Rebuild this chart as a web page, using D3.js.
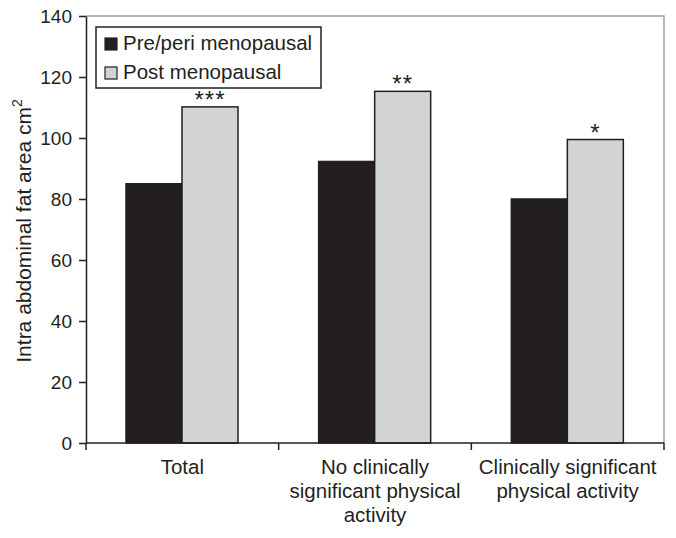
<!DOCTYPE html>
<html>
<head>
<meta charset="utf-8">
<script src="https://cdn.jsdelivr.net/npm/d3@7"></script>
<style>
  body { margin: 0; background: #fff; }
  svg text { font-family: "Liberation Sans", Arial, sans-serif; fill: #231f20; }
</style>
</head>
<body>
<div id="chart"></div>
<script>
const categories = ['Total', 'No clinically significant physical activity', 'Clinically significant physical activity'];
const categoryLines = [
  ['Total'],
  ['No clinically', 'significant physical', 'activity'],
  ['Clinically significant', 'physical activity']
];
const series = ['Pre/peri menopausal', 'Post menopausal'];
const preValues = [85, 92.3, 80];
const postValues = [110.2, 115.3, 99.5];
const stars = ['***', '**', '*'];
const yTicks = [0, 20, 40, 60, 80, 100, 120, 140];
const yLabel = 'Intra abdominal fat area cm';

const W = 676, H = 538;
const plotLeft = 86, plotRight = 664, plotTop = 16, plotBottom = 443;
const ink = '#231f20';
const colors = [ink, '#d1d3d4'];

let svg = d3.select('#chart').append('svg')
  .attr('width', W)
  .attr('height', H);

let x0 = d3.scaleBand().domain(categories).range([plotLeft, plotRight]);
let x1 = d3.scaleBand().domain(series).range([40, 152]);
let y = d3.scaleLinear().domain([0, 140]).range([plotBottom, plotTop]);

// gray frame top / right
svg.append('path')
  .attr('d', `M${plotLeft},${plotTop}H${plotRight}V${plotBottom}`)
  .attr('fill', 'none')
  .attr('stroke', '#a0a0a0')
  .attr('stroke-width', 1.5);

// bars
let rows = categories.map((c, i) => [
  { cat: c, s: series[0], v: preValues[i] },
  { cat: c, s: series[1], v: postValues[i] }
]);

let groups = svg.selectAll('.grp')
  .data(rows)
  .enter().append('g')
  .attr('class', 'grp')
  .attr('transform', d => `translate(${x0(d[0].cat)},0)`);

groups.selectAll('rect')
  .data(d => d)
  .enter().append('rect')
  .attr('x', d => x1(d.s))
  .attr('width', x1.bandwidth())
  .attr('y', d => y(d.v))
  .attr('height', d => y(0) - y(d.v))
  .attr('fill', (d, i) => colors[i])
  .attr('stroke', ink)
  .attr('stroke-width', 1.5);

// significance stars
groups.append('text')
  .attr('x', x1(series[1]) + x1.bandwidth() / 2)
  .attr('y', (d, i) => y(postValues[i]) + 1)
  .attr('text-anchor', 'middle')
  .attr('font-size', 24)
  .attr('letter-spacing', 1)
  .text((d, i) => stars[i]);

// y axis
let yAxis = svg.append('g')
  .attr('transform', `translate(${plotLeft},0)`)
  .call(d3.axisLeft(y).tickValues(yTicks).tickSize(7).tickPadding(7).tickSizeOuter(0));
yAxis.selectAll('text').attr('font-size', 19).attr('fill', ink).attr('dy', '0.36em');
yAxis.selectAll('line, path').attr('stroke', ink).attr('stroke-width', 1.5);

// x axis line with boundary ticks
let xAxis = svg.append('g');
xAxis.append('line')
  .attr('x1', plotLeft).attr('x2', plotRight)
  .attr('y1', plotBottom).attr('y2', plotBottom)
  .attr('stroke', ink).attr('stroke-width', 1.5);
let bounds = categories.map(c => x0(c)).concat([x0.range()[1]]);
xAxis.selectAll('.tk')
  .data(bounds)
  .enter().append('line')
  .attr('class', 'tk')
  .attr('x1', d => d).attr('x2', d => d)
  .attr('y1', plotBottom).attr('y2', plotBottom + 7)
  .attr('stroke', ink).attr('stroke-width', 1.5);

let labels = xAxis.selectAll('.lbl')
  .data(categories)
  .enter().append('text')
  .attr('class', 'lbl')
  .attr('text-anchor', 'middle')
  .attr('font-size', 20.5);
labels.each(function(c, i) {
  d3.select(this).selectAll('tspan')
    .data(categoryLines[i])
    .enter().append('tspan')
    .attr('x', x0(c) + x0.bandwidth() / 2)
    .attr('y', (d, j) => 474 + j * 24)
    .text(d => d);
});

// y label
let yl = svg.append('text')
  .attr('transform', 'rotate(-90)')
  .attr('x', -231)
  .attr('y', 31)
  .attr('text-anchor', 'middle')
  .attr('font-size', 21);
yl.append('tspan').text(yLabel);
yl.append('tspan').attr('font-size', 14).attr('dy', -9).text('2');

// legend
let legend = svg.append('g').attr('transform', 'translate(96,27)');
legend.append('rect')
  .attr('width', 225).attr('height', 61)
  .attr('fill', '#fff').attr('stroke', ink).attr('stroke-width', 1.5);
let li = legend.selectAll('.li')
  .data(series)
  .enter().append('g')
  .attr('class', 'li')
  .attr('transform', (d, i) => `translate(9,${11 + i * 29})`);
li.append('rect')
  .attr('width', 12).attr('height', 12)
  .attr('fill', (d, i) => colors[i])
  .attr('stroke', ink).attr('stroke-width', 1.2);
li.append('text')
  .attr('x', 18).attr('y', 12)
  .attr('font-size', 20.5)
  .text(d => d);
</script>
</body>
</html>
